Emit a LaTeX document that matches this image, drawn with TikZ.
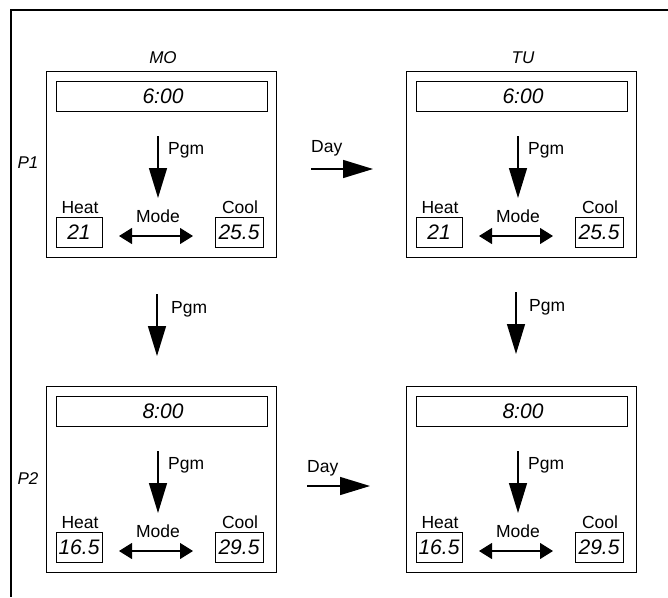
\documentclass[tikz,border=0pt]{standalone}
\usepackage{fontspec}
\setmainfont{Liberation Sans}
\usetikzlibrary{arrows.meta}
\tikzset{>={Triangle[length=30pt,width=18pt]},%
  lcd/.style={font=\fontsize{21}{21}\selectfont\itshape,inner sep=0pt,anchor=base},%
  lcdsmall/.style={font=\fontsize{17}{17}\selectfont\itshape,inner sep=0pt,anchor=base},%
  lbl/.style={font=\fontsize{17.5}{18}\selectfont,inner sep=0pt,anchor=base},%
  panelbox/.style={draw,line width=1pt},%
  bigarrow/.style={->,line width=1.4pt},%
  modearrow/.style={{Triangle[length=13pt,width=16pt]}-{Triangle[length=13pt,width=16pt]},line width=1.1pt}}

\begin{document}
\begin{tikzpicture}[x=1pt,y=-1pt]
  \useasboundingbox (0,0) rectangle (668,597);
  \draw[line width=1.4pt] (668,10) -- (11,10) -- (11,597);
  % the four programme panels
  \foreach \px/\py/\clock/\heat/\cool in {46/71/6:00/21/25.5,%
    406/71/6:00/21/25.5,46/386/8:00/16.5/29.5,406/386/8:00/16.5/29.5} {
    \begin{scope}[shift={(\px,\py)}]
      \draw[panelbox] (0,0) rectangle (230,186);
      \draw[panelbox] (10,10) rectangle (221,40);
      \node[lcd] (clock-\px-\py) at (117,32) {\clock};
      \draw[bigarrow] (112,65) -- (112,127);
      \node[lbl,anchor=base west] (pgm-\px-\py) at (122,83) {Pgm};
      \node[lbl] (heat-\px-\py) at (34,142) {Heat};
      \draw[panelbox] (10,146) rectangle (56,176);
      \node[lcd] (heatval-\px-\py) at (33,168) {\heat};
      \node[lbl] (mode-\px-\py) at (112,151) {Mode};
      \draw[modearrow] (73,165) -- (147,165);
      \node[lbl] (cool-\px-\py) at (194,142) {Cool};
      \draw[panelbox] (169,146) rectangle (217,176);
      \node[lcd] (coolval-\px-\py) at (193,168) {\cool};
    \end{scope}
  }
  \node[lcdsmall] (mo) at (163,63) {MO};
  \node[lcdsmall] (tu) at (523,63) {TU};
  \node[lcdsmall] (p1) at (28,168) {P1};
  \node[lcdsmall] (p2) at (28,484) {P2};
  % day and programme steps between panels
  \draw[bigarrow] (311,169) -- (373,169);
  \node[lbl,anchor=base west] (day1) at (311,152) {Day};
  \draw[bigarrow] (307,486) -- (370,486);
  \node[lbl,anchor=base west] (day2) at (307,472) {Day};
  \draw[bigarrow] (157,294) -- (157,356);
  \node[lbl,anchor=base west] (pgm1) at (171,313) {Pgm};
  \draw[bigarrow] (516,292) -- (516,354);
  \node[lbl,anchor=base west] (pgm2) at (529,311) {Pgm};
\end{tikzpicture}
\end{document}
